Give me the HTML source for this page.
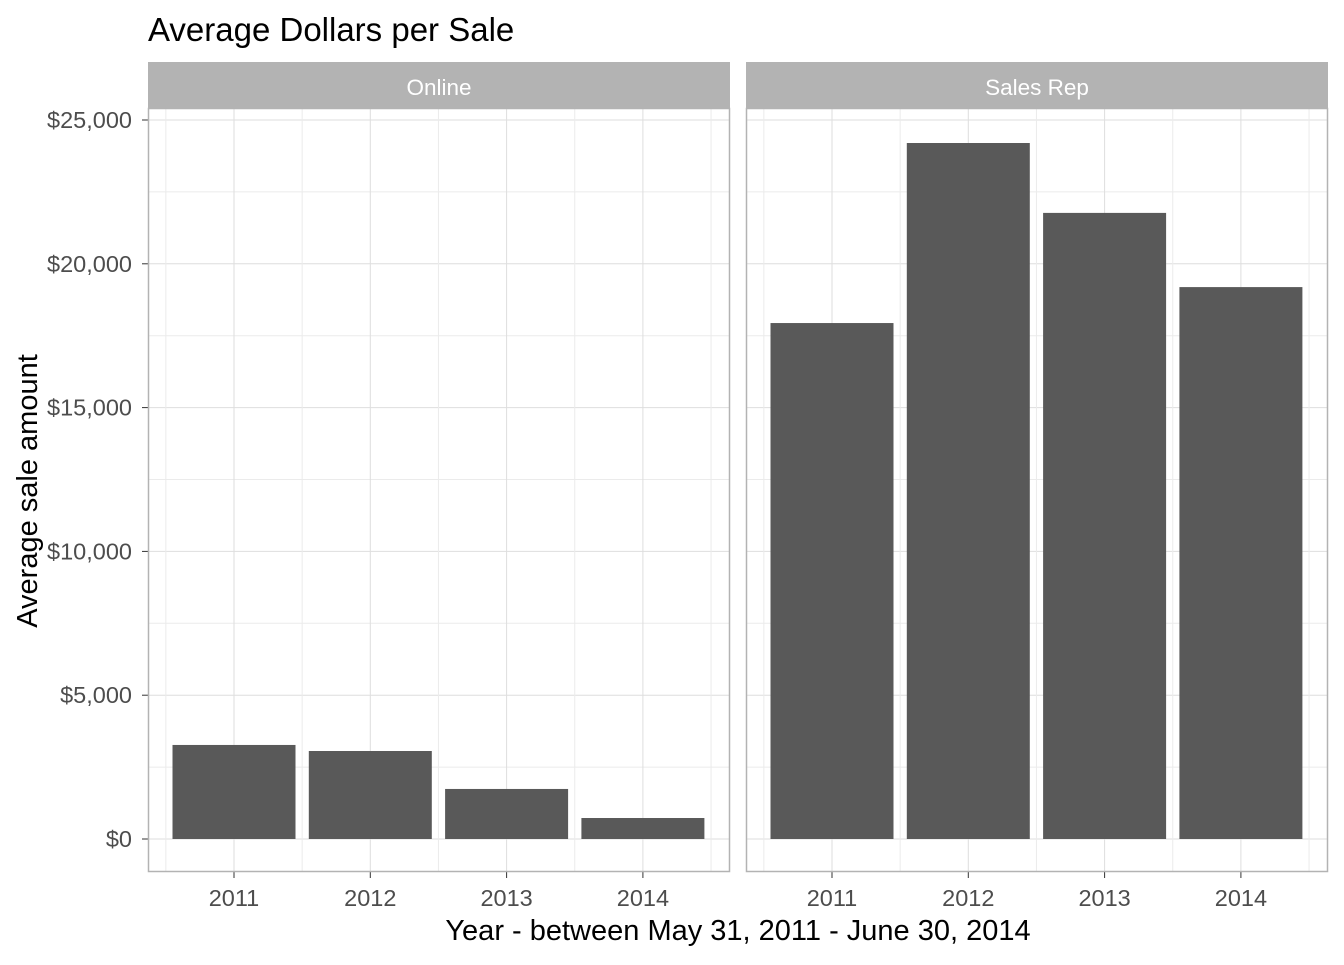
<!DOCTYPE html>
<html><head><meta charset="utf-8"><style>
body{margin:0;background:#fff;}
text{font-family:"Liberation Sans",sans-serif;}
</style></head><body>
<svg id="chart" width="1344" height="960" xmlns="http://www.w3.org/2000/svg">
<text x="148" y="41" font-size="33" fill="#000">Average Dollars per Sale</text>
<text x="738" y="940" font-size="29" fill="#000" text-anchor="middle">Year - between May 31, 2011 - June 30, 2014</text>
<text transform="translate(37,491) rotate(-90)" font-size="29" fill="#000" text-anchor="middle">Average sale amount</text>
<g id="plot"></g>
</svg>
<script>
const panels = ["Online", "Sales Rep"];
const categories = ["2011", "2012", "2013", "2014"];
const onlineValues = [3270, 3060, 1740, 730];
const salesRepValues = [17940, 24200, 21770, 19190];
const yTicks = [0, 5000, 10000, 15000, 20000, 25000];
const yTickLabels = ["$0", "$5,000", "$10,000", "$15,000", "$20,000", "$25,000"];

const NS = "http://www.w3.org/2000/svg";
const plotG = document.getElementById("plot");
function mk(tag, attrs, parent) {
  const e = document.createElementNS(NS, tag);
  for (const k in attrs) e.setAttribute(k, attrs[k]);
  (parent || plotG).appendChild(e);
  return e;
}
const panelLefts = [148, 746];
const panelW = 582, panelTop = 108, panelBottom = 872;
const yScale = v => 839 - v * (719 / 25000);
const step = 136.3;
const xc = (p, i) => panelLefts[p] + 86 + i * step;
const barW = 123;
const series = [onlineValues, salesRepValues];

yTicks.forEach((t, i) => {
  const tx = mk("text", {x: 132, y: yScale(t) + 8, "font-size": 23.5, fill: "#4d4d4d", "text-anchor": "end"});
  
  
  tx.textContent = yTickLabels[i];
  const tk = mk("line", {x1: 142, x2: 148, y1: yScale(t), y2: yScale(t), stroke: "#333", "stroke-width": 1});
  
  
});

panels.forEach((name, p) => {
  const L = panelLefts[p];
  const strip = mk("rect", {x: L, y: 62, width: panelW, height: 46, fill: "#b3b3b3"});
  
  
  const st = mk("text", {x: L + panelW / 2, y: 95, "font-size": 22.5, fill: "#fff", "text-anchor": "middle"});
  
  
  st.textContent = name;
  for (let i = 0; i < yTicks.length; i++) {
    const mv = yTicks[i] + 2500;
    if (yScale(mv) < panelTop) continue;
    const ml = mk("line", {x1: L, x2: L + panelW, y1: yScale(mv), y2: yScale(mv), stroke: "#ebebeb", "stroke-width": 1});
    
    
  }
  yTicks.forEach(t => {
    const gl = mk("line", {x1: L, x2: L + panelW, y1: yScale(t), y2: yScale(t), stroke: "#dedede", "stroke-width": 1});
    
    
  });
  for (let i = 0; i <= categories.length; i++) {
    const vx = xc(p, i) - step / 2;
    const vl = mk("line", {x1: vx, x2: vx, y1: panelTop, y2: panelBottom, stroke: "#ebebeb"});
    
    
  }
  categories.forEach((c, i) => {
    const vl = mk("line", {x1: xc(p, i), x2: xc(p, i), y1: panelTop, y2: panelBottom, stroke: "#dedede"});
    
    
  });
  categories.forEach((c, i) => {
    const v = series[p][i];
    const b = mk("rect", {x: xc(p, i) - barW / 2, y: yScale(v), width: barW, height: yScale(0) - yScale(v), fill: "#595959"});
    
    
    const tk = mk("line", {x1: xc(p, i), x2: xc(p, i), y1: panelBottom, y2: panelBottom + 6, stroke: "#333"});
    
    
    const tl = mk("text", {x: xc(p, i), y: 906, "font-size": 23.5, fill: "#4d4d4d", "text-anchor": "middle"});
    
    
    tl.textContent = c;
  });
  const border = mk("rect", {x: L + 0.5, y: panelTop + 0.5, width: panelW - 1, height: panelBottom - panelTop - 1, fill: "none", stroke: "#b3b3b3", "stroke-width": 1.5});
  
  
});
</script>
</body></html>
